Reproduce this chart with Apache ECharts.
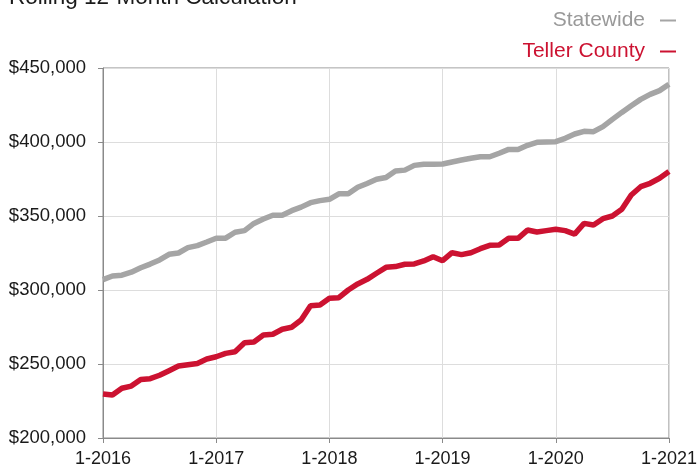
<!DOCTYPE html>
<html>
<head>
<meta charset="utf-8">
<script src="https://cdn.jsdelivr.net/npm/echarts@6/dist/echarts.min.js"></script>
<style>
  html, body { margin: 0; padding: 0; background: #fff; }
  #main { width: 700px; height: 468px; }
</style>
</head>
<body>
<div id="main"></div>
<script>
// Monthly points, 1-2016 through 1-2021
const years = [2016, 2017, 2018, 2019, 2020];
const months = [];
years.forEach((y) => {
  for (let m = 1; m <= 12; m++) months.push(`${m}-${y}`);
});
months.push("1-2021");

// Rolling 12-month median sales price
const statewide = [
  307000, 309500, 310000, 312000, 315000, 317500, 320300, 324100, 325000, 328600, 330000, 332400,
  335000, 335000, 339000, 340100, 345000, 348000, 350500, 350500, 353600, 356000, 359000, 360400,
  361300, 365000, 365000, 369400, 372000, 374800, 376000, 380400, 381000, 384200, 385000, 385000,
  385100, 386500, 387800, 389000, 390000, 390000, 392400, 395000, 395000, 397800, 399800, 400000,
  400200, 402500, 405400, 407200, 407000, 410400, 415300, 420000, 424500, 428800, 432200, 434700,
  439000
];
const teller = [
  229700, 229000, 233600, 235100, 239600, 240100, 242400, 245500, 248600, 249500, 250400, 253400,
  254900, 257200, 258300, 264400, 264900, 269600, 270100, 273500, 274800, 279700, 289400, 289900,
  294400, 294800, 300000, 304100, 307200, 311300, 315300, 315800, 317400, 317600, 319600, 322500,
  319800, 325200, 323900, 325200, 327900, 330200, 330400, 334900, 334900, 340500, 339200, 340100,
  341000, 340100, 337800, 345000, 343900, 348200, 350000, 354500, 364200, 369800, 372100, 375500,
  380000
];

const grayColor = "#a5a5a5";
const redColor = "#cc1231";
const fontFamily = "'Liberation Sans', Arial, Helvetica, sans-serif";

const chart = echarts.init(document.getElementById("main"));
chart.setOption({
  animation: false,
  title: {
    text: "Rolling 12-Month Calculation",
    left: 4,
    top: -19,
    textStyle: { fontFamily, fontSize: 22.5, fontWeight: "normal", color: "#1a1a1a" },
  },
  legend: [
    {
      right: 19,
      top: 5,
      align: "right",
      icon: "rect",
      itemWidth: 16,
      itemHeight: 2,
      data: [{ name: "Statewide", textStyle: { color: "#999" } }],
      textStyle: { fontFamily, fontSize: 21, padding: [0, 10, 0, 0] },
    },
    {
      right: 19,
      top: 36,
      align: "right",
      icon: "rect",
      itemWidth: 16,
      itemHeight: 2,
      data: [{ name: "Teller County", textStyle: { color: redColor } }],
      textStyle: { fontFamily, fontSize: 21, padding: [0, 10, 0, 0] },
    },
  ],
  grid: {
    left: 103,
    right: 28,
    top: 68,
    bottom: 30,
    show: true,
    borderColor: "#8a8a8a",
    borderWidth: 1,
  },
  xAxis: {
    type: "category",
    data: months,
    boundaryGap: false,
    axisLine: { lineStyle: { color: "#8a8a8a" } },
    axisTick: { interval: 11, length: 5, lineStyle: { color: "#8a8a8a" } },
    axisLabel: {
      interval: 11,
      margin: 12,
      color: "#1a1a1a",
      fontFamily,
      fontSize: 18,
    },
    splitLine: { show: true, interval: 11, lineStyle: { color: "#dddddd" } },
  },
  yAxis: {
    type: "value",
    min: 200000,
    max: 450000,
    interval: 50000,
    axisLine: { show: true, lineStyle: { color: "#8a8a8a" } },
    axisTick: { show: true, length: 5, lineStyle: { color: "#8a8a8a" } },
    axisLabel: {
      margin: 17,
      color: "#1a1a1a",
      fontFamily,
      fontSize: 18.5,
      formatter: (v) => "$" + v.toLocaleString("en-US"),
    },
    splitLine: { lineStyle: { color: "#dddddd" } },
  },
  series: [
    {
      name: "Statewide",
      type: "line",
      data: statewide,
      showSymbol: false,
      itemStyle: { color: grayColor },
      lineStyle: { color: grayColor, width: 5.5 },
    },
    {
      name: "Teller County",
      type: "line",
      data: teller,
      showSymbol: false,
      itemStyle: { color: redColor },
      lineStyle: { color: redColor, width: 5.5 },
    },
  ],
});
</script>
</body>
</html>
